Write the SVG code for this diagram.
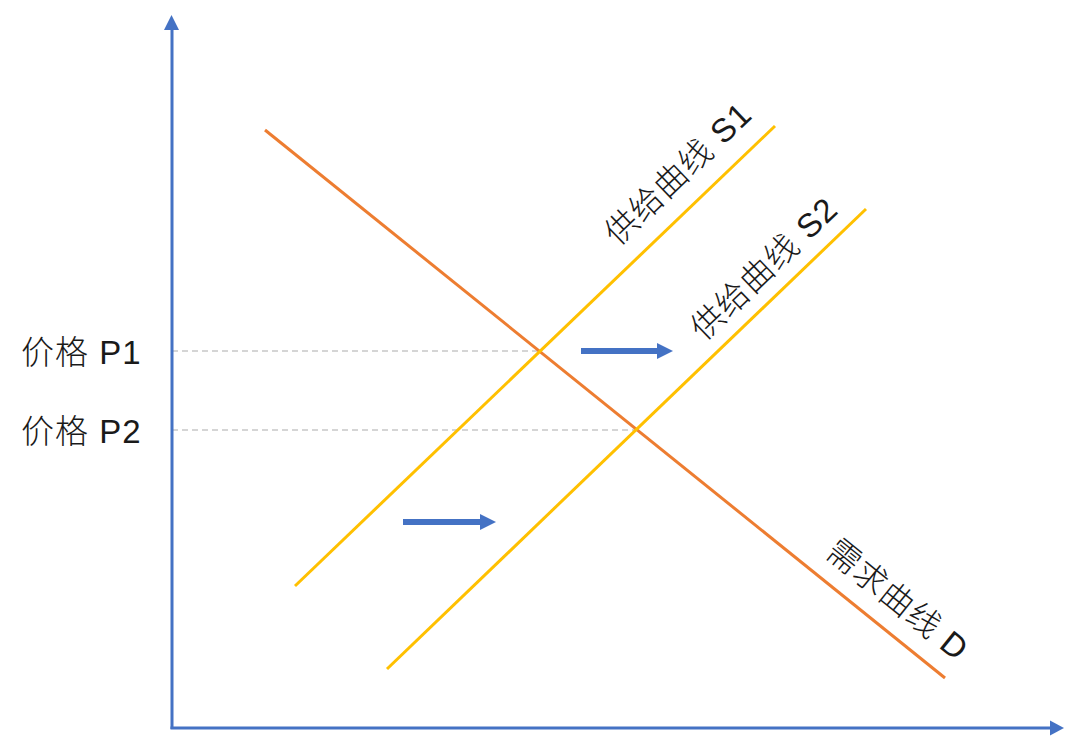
<svg xmlns="http://www.w3.org/2000/svg" width="1080" height="744" viewBox="0 0 1080 744">
<style>
.axis{stroke:#4472C4;stroke-width:3;fill:none}
.ah{fill:#4472C4}
.dash{stroke:#C8C8C8;stroke-width:1.5;stroke-dasharray:6 4;fill:none}
.dem{stroke:#ED7D31;stroke-width:3;fill:none}
.sup{stroke:#FFC000;stroke-width:3;fill:none}
.shift{stroke:#4472C4;stroke-width:6;fill:none}
.lbl{font-family:"Liberation Sans","Noto Sans CJK SC",sans-serif;font-size:33px;letter-spacing:1px;fill:#1a1a1a;font-weight:300}
</style>
<rect width="1080" height="744" fill="#ffffff"/>
<g id="connectors">
<line class="dash" x1="172" y1="351" x2="540" y2="351"/>
<line class="dash" x1="172" y1="430" x2="637" y2="430"/>
<line class="dem" x1="265" y1="130" x2="945" y2="678"/>
<line class="sup" x1="295" y1="586" x2="775" y2="126"/>
<line class="sup" x1="387" y1="669" x2="866" y2="209"/>
<line class="shift" x1="581" y1="351" x2="660" y2="351"/>
<polygon class="ah" points="657,343 673,351 657,359"/>
<line class="shift" x1="403" y1="522" x2="483" y2="522"/>
<polygon class="ah" points="480,514 496,522 480,530"/>
</g>
<g id="y-axis">
<line class="axis" x1="172" y1="729" x2="172" y2="28"/>
<polygon class="ah" points="164,30 171.5,15 179,30"/>
</g>
<g id="x-axis">
<line class="axis" x1="170.5" y1="728" x2="1052" y2="728"/>
<polygon class="ah" points="1050,720.5 1064,728 1050,735.5"/>
</g>
<g id="label-p1"><text class="lbl" x="21" y="364">价格 P1</text></g>
<g id="label-p2"><text class="lbl" x="21" y="443">价格 P2</text></g>
<g id="label-s1"><text class="lbl" transform="translate(618,247) rotate(-43.8)">供给曲线 S1</text></g>
<g id="label-s2"><text class="lbl" transform="translate(704,342) rotate(-43.8)">供给曲线 S2</text></g>
<g id="label-d"><text class="lbl" transform="translate(824,555) rotate(38.9)">需求曲线 D</text></g>
</svg>
